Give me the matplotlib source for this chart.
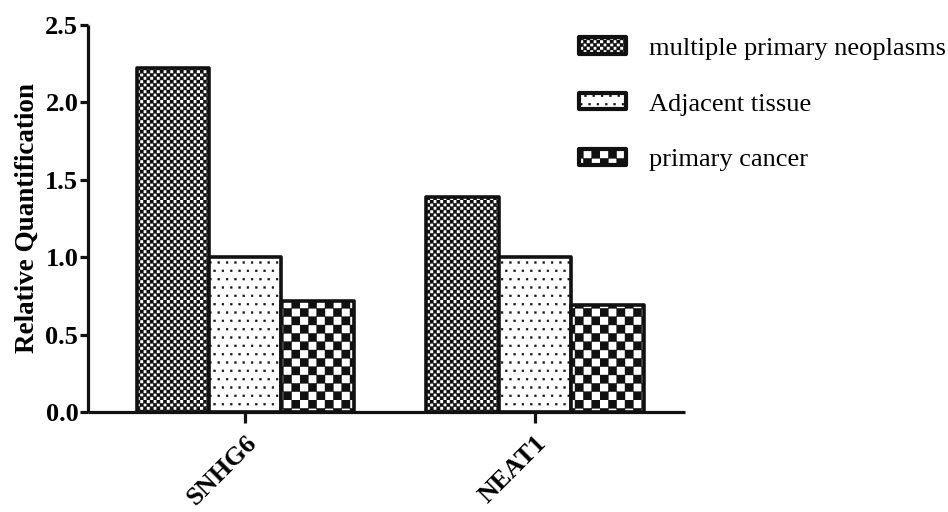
import warnings
warnings.filterwarnings("ignore")
import numpy as np
import matplotlib
matplotlib.use("Agg")
import matplotlib.pyplot as plt
from matplotlib import hatch as mhatch
from matplotlib.path import Path

categories = ["SNHG6", "NEAT1"]
series_names = ["multiple primary neoplasms", "Adjacent tissue", "primary cancer"]
mpn_values = [2.22, 1.39]
adjacent_values = [1.00, 1.00]
primary_values = [0.72, 0.69]
yticks = [0.0, 0.5, 1.0, 1.5, 2.0, 2.5]


class SquareGrid(mhatch.HatchPatternBase):
    """Filled squares on a grid: checkerboards and staggered dot fields."""

    def __init__(self, hatch, density):
        self.cells = []
        if "k" in hatch:
            self._checker(30)
        if "c" in hatch:
            self._checker(12)
        if "d" in hatch:
            nr, nc, h = 12, 24, 0.009
            for i in range(nr):
                for j in range(nc):
                    if (i + j) % 2:
                        continue
                    cx, cy = (j + 0.5) / nc, (i + 0.5) / nr
                    self.cells.append((cx - h, cy - h, 2 * h))
        self.num_vertices = len(self.cells) * 5
        self.filled = True

    def _checker(self, n):
        s = 1.0 / n
        for i in range(n):
            for j in range(n):
                if (i + j) % 2 == 0:
                    self.cells.append((j * s, i * s, s))

    def set_vertices_and_codes(self, vertices, codes):
        for k, (x, y, w) in enumerate(self.cells):
            vertices[5 * k:5 * k + 5] = [(x, y), (x + w, y), (x + w, y + w), (x, y + w), (x, y)]
            codes[5 * k] = Path.MOVETO
            codes[5 * k + 1:5 * k + 4] = Path.LINETO
            codes[5 * k + 4] = Path.CLOSEPOLY


mhatch._hatch_types.append(SquareGrid)

plt.rcParams["font.family"] = ["Liberation Serif", "DejaVu Serif"]
plt.rcParams["hatch.linewidth"] = 0.3
plt.rcParams["hatch.color"] = "black"

fig = plt.figure(figsize=(9.48, 5.12), dpi=100)
ax = fig.add_axes([0.0928, 0.1953, 0.6298, 0.7559])

centers = np.array([0.0, 4.0])
series = [mpn_values, adjacent_values, primary_values]
hatches = ["k", "d", "c"]
offsets = [-1, 0, 1]
handles = []
for vals, h, off, name in zip(series, hatches, offsets, series_names):
    b = ax.bar(centers + off, vals, width=1.0, facecolor="white", edgecolor="#111111",
               linewidth=2.6, hatch=h, joinstyle="round", label=name, zorder=2)
    handles.append(b)

ax.set_xlim(-2.17, 6.07)
ax.set_ylim(0, 2.5)
ax.set_yticks(yticks)
ax.set_yticklabels([f"{v:.1f}" for v in yticks], fontsize=19, fontweight="bold")
ax.set_xticks(centers)
ax.set_xticklabels(categories, fontsize=19, fontweight="bold", rotation=45,
                   ha="right", rotation_mode="anchor")
ax.set_ylabel("Relative Quantification", fontsize=19.5, fontweight="bold", labelpad=4)

for s in ["top", "right"]:
    ax.spines[s].set_visible(False)
for s in ["left", "bottom"]:
    ax.spines[s].set_linewidth(2.3)
    ax.spines[s].set_color("#111111")
    ax.spines[s].set_capstyle("butt")
ax.tick_params(axis="both", direction="out", length=6, width=2.3, color="#111111", pad=1)
ax.tick_params(axis="x", length=8, pad=6)

leg = fig.legend(handles=handles, labels=series_names, loc="upper left",
                 bbox_to_anchor=(0.586, 0.974), frameon=False, fontsize=19,
                 handlelength=1.78, handleheight=0.59, handletextpad=0.85,
                 labelspacing=1.26)
for p in leg.get_patches():
    p.set_linewidth(3.0)
    p.set_joinstyle("round")

fig.savefig("out.png", dpi=100)
